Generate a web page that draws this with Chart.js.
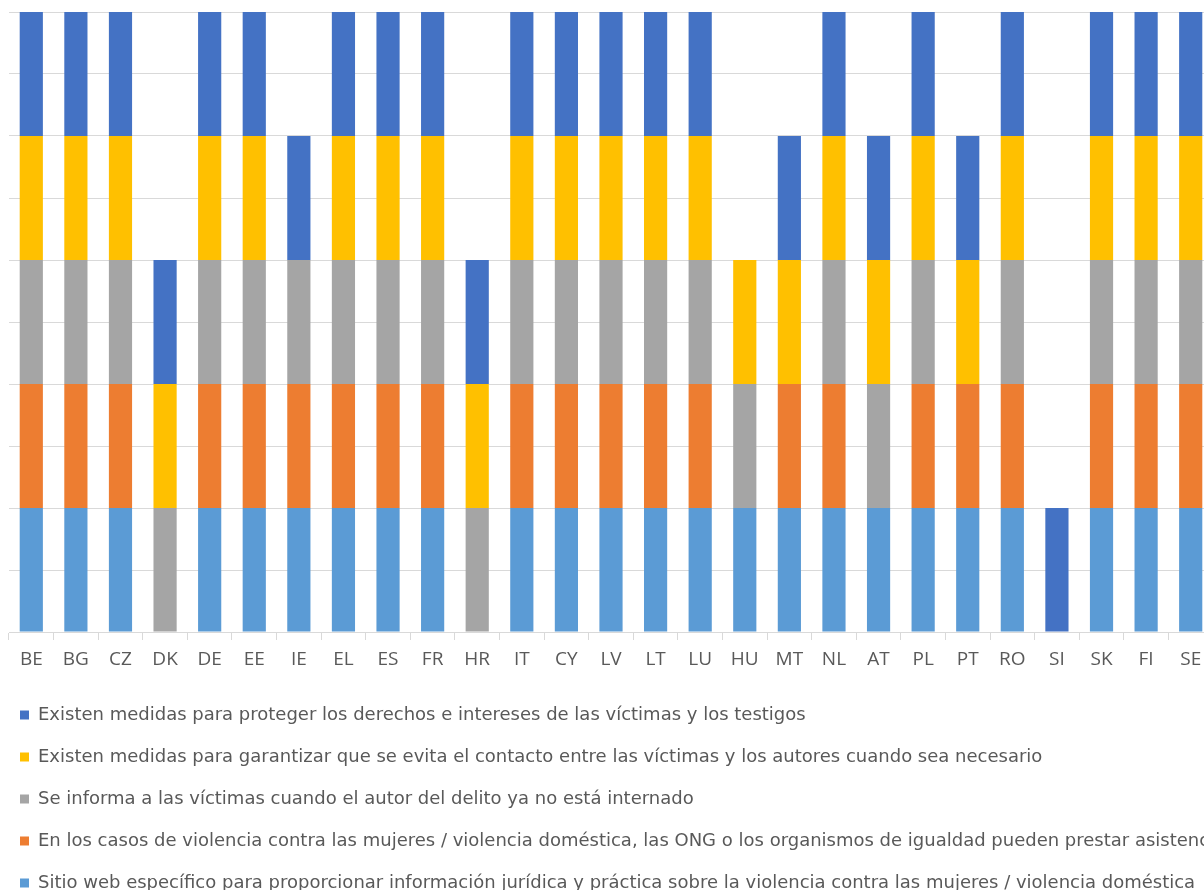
<!DOCTYPE html>
<html>
<head>
<meta charset="utf-8">
<script src="https://cdn.jsdelivr.net/npm/chart.js@4.4.1/dist/chart.umd.min.js"></script>
<style>
html,body{margin:0;padding:0;overflow:hidden;background:#fff;width:1204px;height:890px;}
#wrap{position:absolute;left:-4px;top:0;}
</style>
</head>
<body>
<div id="wrap"><canvas id="c" width="1217" height="902"></canvas></div>
<script>
const categories = ["BE","BG","CZ","DK","DE","EE","IE","EL","ES","FR","HR","IT","CY","LV","LT","LU","HU","MT","NL","AT","PL","PT","RO","SI","SK","FI","SE"];
//                        BE BG CZ DK DE EE IE EL ES FR HR IT CY LV LT LU HU MT NL AT PL PT RO SI SK FI SE
const sitioWeb         = [1, 1, 1, 0, 1, 1, 1, 1, 1, 1, 0, 1, 1, 1, 1, 1, 1, 1, 1, 1, 1, 1, 1, 0, 1, 1, 1];
const ongIgualdad      = [1, 1, 1, 0, 1, 1, 1, 1, 1, 1, 0, 1, 1, 1, 1, 1, 0, 1, 1, 0, 1, 1, 1, 0, 1, 1, 1];
const seInforma        = [1, 1, 1, 1, 1, 1, 1, 1, 1, 1, 1, 1, 1, 1, 1, 1, 1, 0, 1, 1, 1, 0, 1, 0, 1, 1, 1];
const evitaContacto    = [1, 1, 1, 1, 1, 1, 0, 1, 1, 1, 1, 1, 1, 1, 1, 1, 1, 1, 1, 1, 1, 1, 1, 0, 1, 1, 1];
const protegerDerechos = [1, 1, 1, 1, 1, 1, 1, 1, 1, 1, 1, 1, 1, 1, 1, 1, 0, 1, 1, 1, 1, 1, 1, 1, 1, 1, 1];

const seriesLabels = [
  "Sitio web específico para proporcionar información jurídica y práctica sobre la violencia contra las mujeres / violencia doméstica",
  "En los casos de violencia contra las mujeres / violencia doméstica, las ONG o los organismos de igualdad pueden prestar asistencia",
  "Se informa a las víctimas cuando el autor del delito ya no está internado",
  "Existen medidas para garantizar que se evita el contacto entre las víctimas y los autores cuando sea necesario",
  "Existen medidas para proteger los derechos e intereses de las víctimas y los testigos"
];
const seriesColors = ["#5B9BD5", "#ED7D31", "#A5A5A5", "#FFC000", "#4472C4"];
const seriesData = [sitioWeb, ongIgualdad, seInforma, evitaContacto, protegerDerechos];

const textColor = "#595959";
const gridColor = "#D9D9D9";

new Chart(document.getElementById('c'), {
  type: 'bar',
  data: {
    labels: categories,
    datasets: seriesData.map((d, i) => ({
      label: seriesLabels[i],
      data: d,
      backgroundColor: seriesColors[i],
      borderWidth: 0,
      barPercentage: 0.52,
      categoryPercentage: 1.0
    }))
  },
  options: {
    responsive: false,
    animation: false,
    layout: { padding: { top: 12, left: 0, right: 0, bottom: 0 } },
    plugins: {
      tooltip: { enabled: false },
      legend: {
        position: 'bottom',
        align: 'start',
        reverse: true,
        labels: {
          boxWidth: 9,
          boxHeight: 9,
          padding: 24,
          color: textColor,
          font: { family: "'DejaVu Sans', sans-serif", size: 18 }
        }
      }
    },
    scales: {
      x: {
        stacked: true,
        grid: {
          display: true,
          drawOnChartArea: false,
          drawTicks: true,
          tickLength: 8,
          color: gridColor,
          offset: true
        },
        border: { display: true, color: gridColor, width: 1 },
        ticks: {
          color: textColor,
          padding: 8,
          maxRotation: 0,
          autoSkip: false,
          font: { family: "'Open Sans', sans-serif", size: 19 }
        },
        afterFit: (s) => { s.height = 50; }
      },
      y: {
        stacked: true,
        min: 0,
        max: 5,
        grid: { color: gridColor, lineWidth: 1, drawTicks: false },
        border: { display: false },
        ticks: { display: false, stepSize: 0.5 },
        afterFit: (s) => { s.width = 13; }
      }
    }
  }
});
</script>
</body>
</html>
